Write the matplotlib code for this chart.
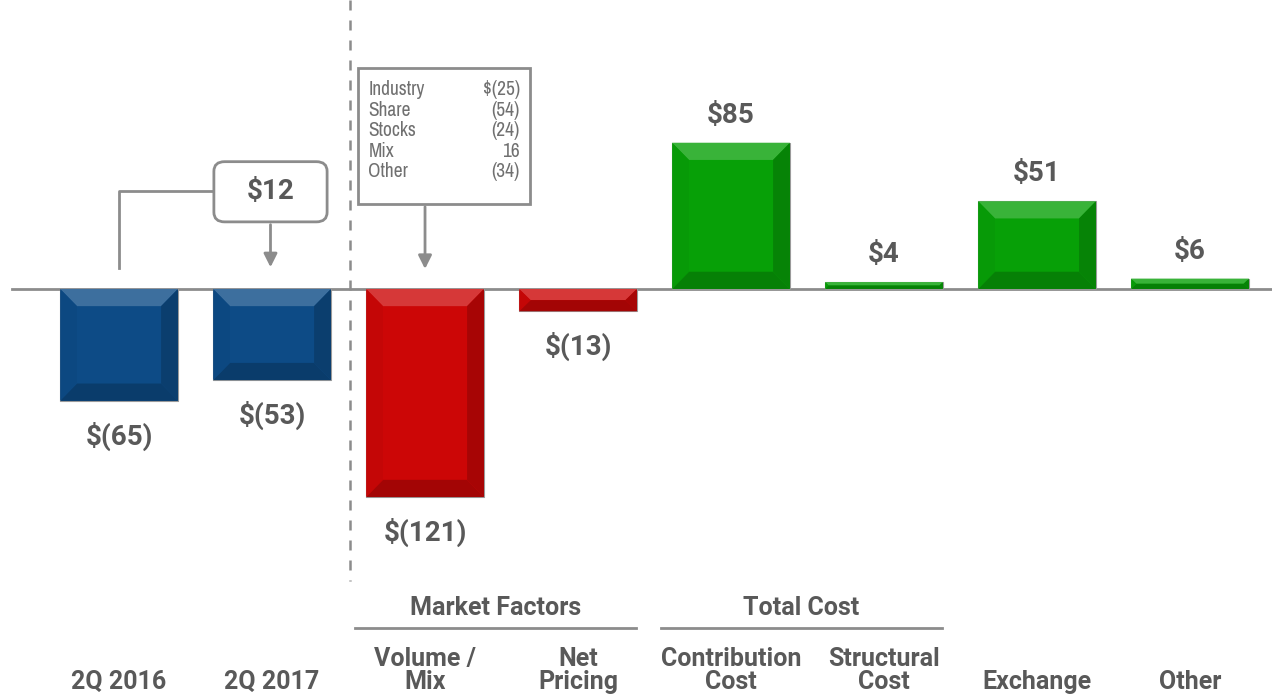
import matplotlib
matplotlib.use("Agg")
import matplotlib.pyplot as plt
from matplotlib.patches import Polygon, FancyBboxPatch, Rectangle
from matplotlib.transforms import blended_transform_factory
import matplotlib.colors as mcolors

# data
categories = ['2Q 2016', '2Q 2017', 'Volume /\nMix', 'Net\nPricing',
              'Contribution\nCost', 'Structural\nCost', 'Exchange', 'Other']
values = [-65, -53, -121, -13, 85, 4, 51, 6]
bar_colors = ['#0d4b86', '#0d4b86', '#cc0606', '#cc0606',
              '#07a007', '#07a007', '#07a007', '#07a007']
groups = [('Market Factors', 2, 3), ('Total Cost', 4, 5)]
change_label = '$12'
breakdown_names = ['Industry', 'Share', 'Stocks', 'Mix', 'Other']
breakdown_vals = ['$(25)', '(54)', '(24)', '16', '(34)']

FONT = ['Roboto', 'DejaVu Sans']
FONT_BOX = ['Archivo Narrow', 'DejaVu Sans']
GREY = '#595959'
LINE = '#8c8c8c'


def money(v):
    return '$%d' % v if v >= 0 else '$(%d)' % -v


fig = plt.figure(figsize=(12.72, 7), dpi=100)
ax = fig.add_axes([0, 0, 1, 1])
ax.set_xlim(-0.778, 7.536)
ax.set_ylim(-239, 168)
ax.axis('off')

bars = ax.bar(range(len(values)), values, width=0.77, color=bar_colors,
              edgecolor='#9a9a9a', linewidth=0.8, zorder=3)


def shade(c, f):
    r, g, b = mcolors.to_rgb(c)
    if f > 0:
        return (r + (1 - r) * f, g + (1 - g) * f, b + (1 - b) * f)
    return (r * (1 + f), g * (1 + f), b * (1 + f))


# bevel facets on every bar
for b, c in zip(bars, bar_colors):
    x0, w = b.get_x(), b.get_width()
    y0, h = b.get_y(), b.get_height()
    y_lo, y_hi = min(y0, y0 + h), max(y0, y0 + h)
    dy = min(10, (y_hi - y_lo) / 2)
    dx = min(0.11, dy * 0.0115)
    x1 = x0 + w
    top = [(x0, y_hi), (x1, y_hi), (x1 - dx, y_hi - dy), (x0 + dx, y_hi - dy)]
    bot = [(x0, y_lo), (x1, y_lo), (x1 - dx, y_lo + dy), (x0 + dx, y_lo + dy)]
    left = [(x0, y_lo), (x0, y_hi), (x0 + dx, y_hi - dy), (x0 + dx, y_lo + dy)]
    right = [(x1, y_lo), (x1, y_hi), (x1 - dx, y_hi - dy), (x1 - dx, y_lo + dy)]
    for pts, f in [(top, 0.2), (bot, -0.2), (left, -0.04), (right, -0.18)]:
        ax.add_patch(Polygon(pts, closed=True, facecolor=shade(c, f),
                             edgecolor='none', zorder=4))

# value labels
for i, v in enumerate(values):
    off = 8 if v >= 0 else -12
    ax.text(i, v + off, money(v), ha='center',
            va='bottom' if v >= 0 else 'top', fontsize=20,
            fontweight='bold', color=GREY, family=FONT, zorder=5)

# zero line
ax.plot([-0.70, 7.536], [0, 0], color=LINE, lw=2, zorder=2)

# divider between years and bridge items
ax.plot([1.51, 1.51], [168, -170], color=LINE, lw=1.8,
        linestyle=(0, (4, 4)), zorder=1)

# year-over-year callout
ax.plot([0, 0, 0.62], [12, 57, 57], color=LINE, lw=2, zorder=2)
ax.add_patch(FancyBboxPatch((0.62, 39), 0.74, 35,
                            boxstyle='round,pad=0,rounding_size=0.07',
                            mutation_aspect=80, facecolor='white',
                            edgecolor=LINE, lw=2, zorder=5))
ax.text(0.99, 56.5, change_label, ha='center', va='center', fontsize=20,
        fontweight='bold', color=GREY, family=FONT, zorder=6)
ax.annotate('', xy=(0.99, 11), xytext=(0.99, 39),
            arrowprops=dict(arrowstyle='-|>,head_length=0.8,head_width=0.4',
                            color=LINE, lw=2), zorder=4)

# volume / mix breakdown box
ax.add_patch(Rectangle((1.565, 49.4), 1.12, 79, facecolor='white',
                       edgecolor=LINE, lw=2, zorder=5))
for k, (nm, vv) in enumerate(zip(breakdown_names, breakdown_vals)):
    yy = 116 - k * 12.0
    ax.text(1.63, yy, nm, ha='left', va='center', fontsize=14,
            color='#707070', family=FONT_BOX, zorder=6)
    ax.text(2.62, yy, vv, ha='right', va='center', fontsize=14,
            color='#707070', family=FONT_BOX, zorder=6)
ax.annotate('', xy=(2.0, 10), xytext=(2.0, 49.4),
            arrowprops=dict(arrowstyle='-|>,head_length=0.8,head_width=0.4',
                            color=LINE, lw=2), zorder=4)

# category labels
tr = blended_transform_factory(ax.transData, ax.transAxes)
for i, lab in enumerate(categories):
    ax.text(i, 0.008, lab, ha='center', va='bottom', fontsize=18,
            fontweight='bold', color=GREY, family=FONT, linespacing=0.98,
            transform=tr)

# group headers
for name, i0, i1 in groups:
    lo, hi = i0 - 0.46, i1 + 0.38
    ax.plot([lo, hi], [0.103, 0.103], color=LINE, lw=2, transform=tr)
    ax.text((lo + hi) / 2, 0.114, name, ha='center', va='bottom', fontsize=18,
            fontweight='bold', color=GREY, family=FONT, transform=tr)

fig.savefig('out.png', dpi=100)
